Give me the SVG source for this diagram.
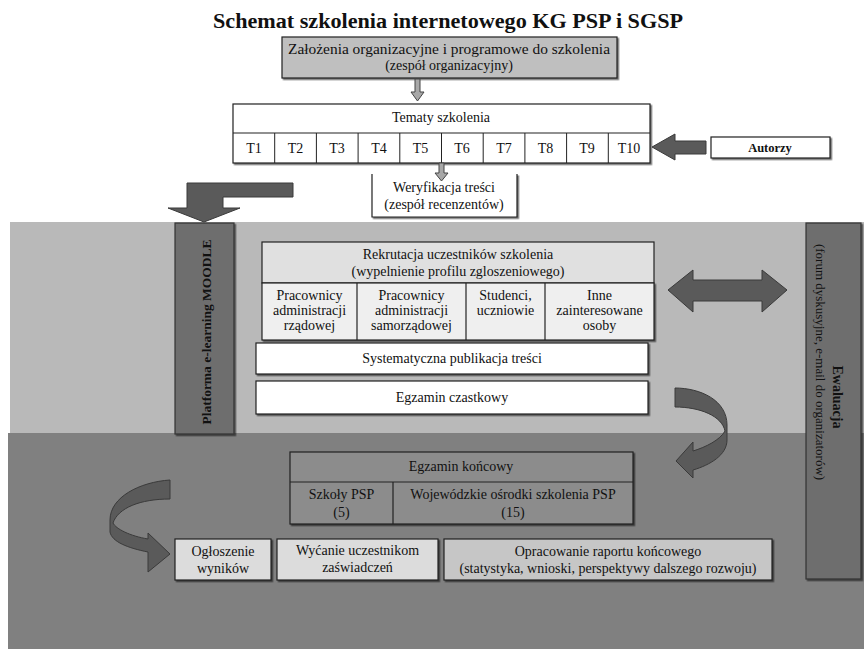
<svg xmlns="http://www.w3.org/2000/svg" width="864" height="649" viewBox="0 0 864 649" font-family="Liberation Serif, serif">
<style>
text{font-family:'Liberation Serif',serif;font-size:14px;fill:#111;text-anchor:middle}
.b{font-weight:bold}
.box{stroke:#222;stroke-width:1.2}
.arr{fill:#5a5a5a;stroke:#3a3a3a;stroke-width:1}
.sm{fill:#a8a8a8;stroke:#444;stroke-width:1}
.bar{fill:#6e6e6e;stroke:#333;stroke-width:1.2}
</style>
<defs>
<filter id="sh" x="-5%" y="-5%" width="115%" height="130%">
<feDropShadow dx="1.5" dy="1.5" stdDeviation="0.6" flood-color="#000" flood-opacity="0.55"/>
</filter>
</defs>
<rect width="864" height="649" fill="#fff"/>
<rect x="10" y="222" width="854" height="211" fill="#b9b9b9"/>
<rect x="8" y="433" width="856" height="216" fill="#808080"/>

<text class="b" x="448" y="28" style="font-size:20px" textLength="470" lengthAdjust="spacingAndGlyphs">Schemat szkolenia internetowego KG PSP i SGSP</text>

<g id="zalozenia">
<rect class="box" x="282" y="37" width="335" height="41" fill="#bfbfbf" filter="url(#sh)"/>
<text x="449" y="54" textLength="322" lengthAdjust="spacingAndGlyphs">Założenia organizacyjne i programowe do szkolenia</text>
<text x="449" y="70">(zespół organizacyjny)</text>
</g>

<g id="tematy">
<rect class="box" x="233" y="104" width="417" height="59" fill="#fff" filter="url(#sh)"/>
<line x1="233" y1="133" x2="650" y2="133" stroke="#222" stroke-width="1.2"/>
<g stroke="#222" stroke-width="1">
<line x1="274.7" y1="133" x2="274.7" y2="163"/><line x1="316.4" y1="133" x2="316.4" y2="163"/>
<line x1="358.1" y1="133" x2="358.1" y2="163"/><line x1="399.8" y1="133" x2="399.8" y2="163"/>
<line x1="441.5" y1="133" x2="441.5" y2="163"/><line x1="483.2" y1="133" x2="483.2" y2="163"/>
<line x1="524.9" y1="133" x2="524.9" y2="163"/><line x1="566.6" y1="133" x2="566.6" y2="163"/>
<line x1="608.3" y1="133" x2="608.3" y2="163"/>
</g>
<text x="441" y="122">Tematy szkolenia</text>
<text x="254" y="153">T1</text><text x="295.5" y="153">T2</text><text x="337" y="153">T3</text>
<text x="379" y="153">T4</text><text x="420.5" y="153">T5</text><text x="462" y="153">T6</text>
<text x="504" y="153">T7</text><text x="545.5" y="153">T8</text><text x="587" y="153">T9</text>
<text x="629" y="153">T10</text>
</g>

<g id="autorzy">
<rect class="box" x="711" y="137" width="119" height="21" fill="#fff" filter="url(#sh)"/>
<text class="b" x="770" y="152" style="font-size:12.5px">Autorzy</text>
</g>

<g id="weryfikacja">
<path d="M372,174 V217 H517 V174" fill="#fff" stroke="#222" stroke-width="1.2" filter="url(#sh)"/>
<text x="444" y="192">Weryfikacja treści</text>
<text x="444" y="209">(zespół recenzentów)</text>
</g>

<g id="platforma">
<rect class="bar" x="175" y="223" width="59" height="211" filter="url(#sh)"/>
<text class="b" transform="translate(206,332) rotate(-90)" y="4.5" style="font-size:13.5px">Platforma e-learning MOODLE</text>
</g>

<g id="ewaluacja">
<rect class="bar" x="806" y="223" width="55" height="356" filter="url(#sh)"/>
<text class="b" transform="translate(837,397) rotate(90)" y="4.5">Ewaluacja</text>
<text transform="translate(820,362) rotate(90)" y="4.5" style="font-size:13px">(forum dyskusyjne, e-mail do organizatorów)</text>
</g>

<g id="rekrutacja">
<rect class="box" x="262" y="242" width="392" height="41" fill="#e0e0e0"/>
<rect class="box" x="262" y="283" width="392" height="57" fill="#efefef" filter="url(#sh)"/>
<g stroke="#222" stroke-width="1.2"><line x1="357" y1="283" x2="357" y2="340"/><line x1="466" y1="283" x2="466" y2="340"/><line x1="545" y1="283" x2="545" y2="340"/></g>
<text x="458" y="259">Rekrutacja uczestników szkolenia</text>
<text x="458" y="276">(wypelnienie profilu zgloszeniowego)</text>
<text x="309.5" y="300">Pracownicy</text><text x="309.5" y="315">administracji</text><text x="309.5" y="330">rządowej</text>
<text x="411.5" y="300">Pracownicy</text><text x="411.5" y="315">administracji</text><text x="411.5" y="330">samorządowej</text>
<text x="505.5" y="300">Studenci,</text><text x="505.5" y="315">uczniowie</text>
<text x="599.5" y="300">Inne</text><text x="599.5" y="315">zainteresowane</text><text x="599.5" y="330">osoby</text>
</g>

<g id="publikacja">
<rect class="box" x="256" y="343" width="392" height="31" fill="#fff" filter="url(#sh)"/>
<text x="452" y="363">Systematyczna publikacja treści</text>
</g>

<g id="egzamin-czastkowy">
<rect class="box" x="256" y="381" width="392" height="33" fill="#fff" filter="url(#sh)"/>
<text x="452" y="402">Egzamin czastkowy</text>
</g>

<g id="egzamin-koncowy">
<rect class="box" x="290" y="452" width="343" height="72" fill="#8c8c8c" filter="url(#sh)"/>
<line x1="290" y1="482" x2="633" y2="482" stroke="#222" stroke-width="1.2"/>
<line x1="393" y1="482" x2="393" y2="524" stroke="#222" stroke-width="1.2"/>
<text x="461" y="471">Egzamin końcowy</text>
<text x="341.5" y="499">Szkoły PSP</text><text x="341.5" y="517">(5)</text>
<text x="513" y="499">Wojewódzkie ośrodki szkolenia PSP</text><text x="513" y="517">(15)</text>
</g>

<g id="ogloszenie">
<rect class="box" x="175" y="539" width="96" height="41" fill="#dcdcdc" filter="url(#sh)"/>
<text x="223" y="556">Ogłoszenie</text><text x="223" y="573">wyników</text>
</g>
<g id="zaswiadczenia">
<rect class="box" x="277" y="539" width="161" height="41" fill="#dcdcdc" filter="url(#sh)"/>
<text x="357.5" y="555">Wyćanie uczestnikom</text><text x="357.5" y="572">zaświadczeń</text>
</g>
<g id="raport">
<rect class="box" x="444" y="539" width="328" height="41" fill="#c6c6c6" filter="url(#sh)"/>
<text x="608" y="556">Opracowanie raportu końcowego</text>
<text x="608" y="573">(statystyka, wnioski, perspektywy dalszego rozwoju)</text>
</g>

<g id="connectors">
<path class="sm" d="M415,79 H420 V92 H424 L417.5,101 L411,92 H415 Z"/>
<path class="sm" d="M439,163 H444 V173 H448 L441.5,181 L435,173 H439 Z"/>
<path class="arr" d="M293,183 H187 V208 H168 L204,222 L240,208 H223 V197 H293 Z"/>
<path class="arr" d="M652,147 L675,134 V141 H706 V154 H675 V160 Z" fill="#666"/>
<path class="arr" d="M668,290 L693,270 V280 H762 V270 L787,290 L762,312 V301 H693 V312 Z"/>
<path class="arr" d="M675,388 C700,388 727,400 727,425 L727,440 C727,455 710,465 693,470 L693,478 L676,461 L693,442 L693,451 C706,447 720,440 725,431 C722,416 700,407 675,407 Z" fill="#4a4a4a"/>
<path class="arr" d="M170,480 C140,482 110,497 110,520 L110,532 C112,542 128,548 148,552 L148,572 L170,554 L148,533 L148,539 C130,536 116,529 113,523 C118,508 140,499 170,499 Z" fill="#4a4a4a"/>
</g>
</svg>
